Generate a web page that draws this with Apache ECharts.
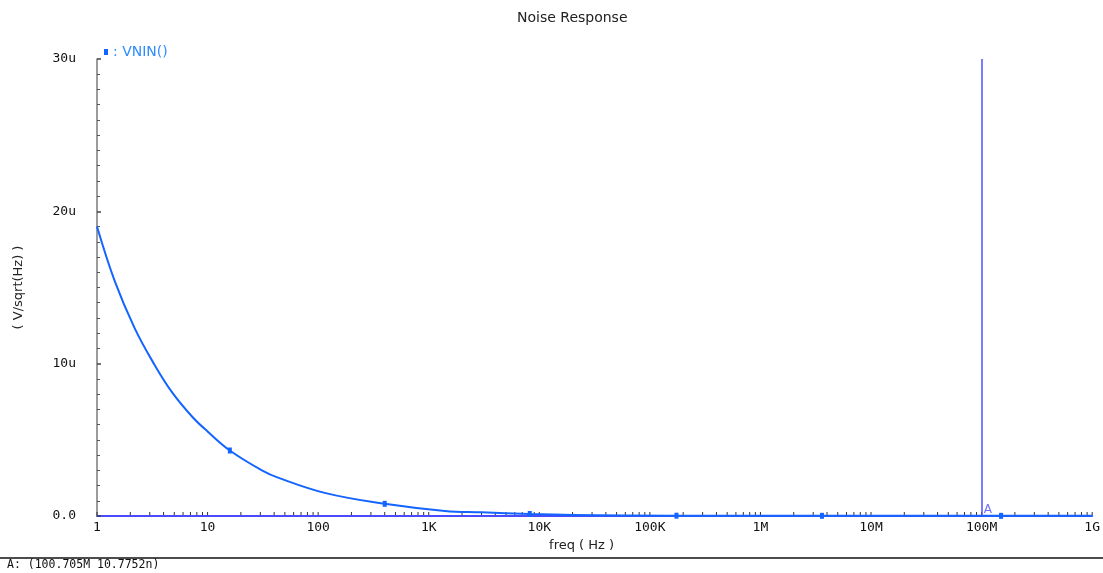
<!DOCTYPE html>
<html>
<head>
<meta charset="utf-8">
<title>Noise Response</title>
<script src="https://cdn.jsdelivr.net/npm/echarts@6/dist/echarts.min.js"></script>
<style>
  html, body { margin: 0; padding: 0; background: #fff; }
  #chart { width: 1103px; height: 573px; }
</style>
</head>
<body>
<div id="chart"></div>
<script>
// frequency points (Hz) and noise (uV/sqrt(Hz))
const freqHz = [1, 1.45, 2.2, 3.3, 4.8, 7.3, 10, 15.9, 31, 44, 117, 400, 1400, 3000, 8200, 20000, 174000, 1e6, 3.6e6, 1e7, 1.5e8, 1e9];
const vninUV = [19.0, 15.4, 12.3, 9.95, 8.1, 6.5, 5.55, 4.3, 3.0, 2.5, 1.5, 0.8, 0.33, 0.24, 0.13, 0.07, 0.02, 0.015, 0.012, 0.011, 0.0108, 0.0105];
const markerFreqs = [15.9, 400, 8200, 174000, 3.6e6, 1.5e8];

const cursorFreq = 100.705e6;
const cursorText = 'A: (100.705M 10.7752n)';

const xTickLabels = { 1: '1', 10: '10', 100: '100', 1e3: '1K', 1e4: '10K', 1e5: '100K', 1e6: '1M', 1e7: '10M', 1e8: '100M', 1e9: '1G' };

// tick positions 1..9 per decade
const xTicks = [];
for (let d = 0; d < 9; d++) {
    for (let m = 1; m <= 9; m++) xTicks.push(m * Math.pow(10, d));
}
xTicks.push(1e9);

const chart = echarts.init(document.getElementById('chart'));

const lineData = freqHz.map((f, i) => {
    if (markerFreqs.indexOf(f) >= 0) {
        return { value: [f, vninUV[i]], symbol: 'rect', symbolSize: [4, 6] };
    }
    return { value: [f, vninUV[i]], symbol: 'none' };
});

const mono = 'DejaVu Sans Mono';
const sans = 'DejaVu Sans';

const options = {
    animation: false,
    title: {
        text: 'Noise Response',
        left: 512,
        top: 6,
        textStyle: { fontFamily: sans, fontSize: 14, fontWeight: 'normal', color: '#222' }
    },
    legend: {
        data: ['VNIN()'],
        left: 99,
        top: 40,
        icon: 'rect',
        itemWidth: 4,
        itemHeight: 6,
        itemGap: 4,
        formatter: ': {name}',
        textStyle: { fontFamily: sans, fontSize: 14, color: '#2d8cff' }
    },
    grid: { left: 97, right: 9, top: 59, bottom: 57 },
    xAxis: {
        type: 'log',
        logBase: 10,
        min: 1,
        max: 1e9,
        name: 'freq ( Hz )',
        nameLocation: 'middle',
        nameGap: 23,
        nameTextStyle: { fontFamily: sans, fontSize: 13, color: '#222', padding: [0, 26, 0, 0] },
        axisLine: { show: true, lineStyle: { color: '#4a4aff', width: 2 } },
        axisTick: { show: false },
        splitLine: { show: false },
        axisLabel: {
            margin: 5,
            fontFamily: mono,
            fontSize: 13,
            color: '#111',
            formatter: v => xTickLabels[Math.round(v)] || ''
        }
    },
    yAxis: {
        type: 'value',
        min: 0,
        max: 30,
        interval: 10,
        name: '( V/sqrt(Hz) )',
        nameLocation: 'middle',
        nameGap: 72,
        nameRotate: 90,
        nameTextStyle: { fontFamily: sans, fontSize: 13, color: '#222' },
        axisLine: { show: true, lineStyle: { color: '#7a7a7a', width: 1.5 } },
        axisTick: { show: true, inside: true, length: 4, lineStyle: { color: '#444', width: 1.5 } },
        minorTick: { show: true, splitNumber: 10, length: 3, lineStyle: { color: '#555' } },
        splitLine: { show: false },
        axisLabel: {
            margin: 21,
            fontFamily: mono,
            fontSize: 13,
            color: '#111',
            formatter: v => (v === 0 ? '0.0' : v + 'u')
        }
    },
    series: [
        {
            name: 'ticks',
            type: 'custom',
            silent: true,
            z: 1,
            data: xTicks.map(t => [t, 0]),
            renderItem: (params, api) => {
                const p = api.coord([api.value(0), 0]);
                return {
                    type: 'line',
                    shape: { x1: p[0], y1: p[1] - 1, x2: p[0], y2: p[1] - 4 },
                    style: { stroke: '#333', lineWidth: 1 }
                };
            }
        },
        {
            name: 'VNIN()',
            type: 'line',
            data: lineData,
            showSymbol: true,
            showAllSymbol: true,
            smooth: 0.4,
            z: 3,
            itemStyle: { color: '#1464ff' },
            lineStyle: { color: '#1464ff', width: 2 }
        },
        {
            name: 'cursor',
            type: 'scatter',
            data: [[cursorFreq, 0]],
            symbolSize: 0,
            z: 4,
            label: {
                show: true,
                formatter: 'A',
                position: 'top',
                offset: [6, 5],
                fontFamily: sans,
                fontSize: 12,
                color: '#4a4aff'
            },
            markLine: {
                silent: true,
                symbol: 'none',
                label: { show: false },
                lineStyle: { color: '#5050ff', width: 1.5, type: 'solid' },
                data: [[{ coord: [cursorFreq, 0] }, { coord: [cursorFreq, 30] }]]
            }
        }
    ],
    graphic: [
        {
            type: 'line',
            shape: { x1: 0, y1: 558, x2: 1103, y2: 558 },
            style: { stroke: '#111', lineWidth: 1.5 }
        },
        {
            type: 'text',
            left: 7,
            top: 559,
            style: { text: cursorText, fontFamily: mono, fontSize: 11.5, fill: '#111' }
        }
    ]
};

chart.setOption(options);
</script>
</body>
</html>
